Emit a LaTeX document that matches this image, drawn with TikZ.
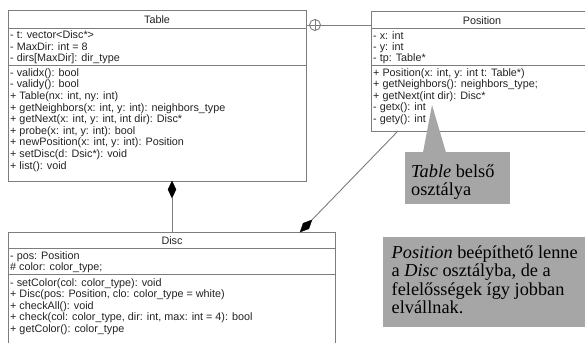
\documentclass[tikz,border=0pt]{standalone}
\usepackage{fontspec}
\setmainfont{Liberation Serif}
\setsansfont{Liberation Sans}
\usetikzlibrary{shapes.geometric}
\definecolor{umlline}{RGB}{125,125,125}
\definecolor{notegray}{RGB}{166,166,166}
\definecolor{umltext}{RGB}{35,35,35}
\begin{document}
\begin{tikzpicture}[x=1pt,y=-1pt,
  umlbox/.style={draw=umlline, line width=1pt, fill=white, inner sep=0pt, outer sep=0pt, anchor=north west},
  sep/.style={draw=umlline, line width=1pt},
  row/.style={anchor=west, inner sep=0pt, text=umltext, font=\sffamily\fontsize{10.8}{11}\selectfont},
  ttl/.style={anchor=center, inner sep=0pt, text=umltext, font=\sffamily\fontsize{10.8}{11}\selectfont},
  conn/.style={draw=umlline, line width=0.9pt},
  compo/.style={diamond, fill=black, draw=black, line width=0.3pt, inner sep=0pt, outer sep=0pt},
  notebox/.style={fill=notegray, inner sep=0pt, outer sep=0pt, anchor=north west},
  notetxt/.style={anchor=base west, inner sep=0pt, text=black, font=\rmfamily\fontsize{18.3}{18.3}\selectfont}
]
\useasboundingbox (0,0) rectangle (585,342);
\clip (0,0) rectangle (585,342);
\fill[white] (0,0) rectangle (585,342);

% ---------- Table ----------
\node[umlbox, minimum width=298pt, minimum height=170pt] (table) at (8,11) {};
\draw[sep] (8,29) -- (306,29);
\draw[sep] (8,65.5) -- (306,65.5);
\node[ttl] (tabletitle) at (157,20) {Table};
\node[row] (ta1) at (10,35) {- t: vector<Disc*>};
\node[row] (ta2) at (10,47) {- MaxDir: int = 8};
\node[row] (ta3) at (10,59) {- dirs[MaxDir]: dir\_type};
\node[row] (tm1) at (10,73.5) {- validx(): bool};
\node[row] (tm2) at (10,85.1) {- validy(): bool};
\node[row] (tm3) at (10,96.7) {+ Table(nx: int, ny: int)};
\node[row] (tm4) at (10,108.3) {+ getNeighbors(x: int, y: int): neighbors\_type};
\node[row] (tm5) at (10,119.9) {+ getNext(x: int, y: int, int dir): Disc*};
\node[row] (tm6) at (10,131.5) {+ probe(x: int, y: int): bool};
\node[row] (tm7) at (10,143.1) {+ newPosition(x: int, y: int): Position};
\node[row] (tm8) at (10,154.7) {+ setDisc(d: Dsic*): void};
\node[row] (tm9) at (10,166.3) {+ list(): void};

% ---------- Position ----------
\node[umlbox, minimum width=240pt, minimum height=119pt] (position) at (371,12) {};
\draw[sep] (371,28.5) -- (611,28.5);
\draw[sep] (371,66) -- (611,66);
\node[ttl] (postitle) at (482,20.5) {Position};
\node[row] (pa1) at (373,36) {- x: int};
\node[row] (pa2) at (373,47.5) {- y: int};
\node[row] (pa3) at (373,59) {- tp: Table*};
\node[row] (pm1) at (373,73.5) {+ Position(x: int, y: int t: Table*)};
\node[row] (pm2) at (373,85) {+ getNeighbors(): neighbors\_type;};
\node[row] (pm3) at (373,96.5) {+ getNext(int dir): Disc*};
\node[row] (pm4) at (373,108) {- getx(): int};
\node[row] (pm5) at (373,119.5) {- gety(): int};

% ---------- Disc ----------
\node[umlbox, minimum width=327pt, minimum height=130pt] (disc) at (8,232) {};
\draw[sep] (8,248) -- (335,248);
\draw[sep] (8,274.3) -- (335,274.3);
\node[ttl] (disctitle) at (172,240.5) {Disc};
\node[row] (da1) at (10,256.7) {- pos: Position};
\node[row] (da2) at (10,268.2) {\# color: color\_type;};
\node[row] (dm1) at (10,283.3) {- setColor(col: color\_type): void};
\node[row] (dm2) at (10,294.8) {+ Disc(pos: Position, clo: color\_type = white)};
\node[row] (dm3) at (10,306.3) {+ checkAll(): void};
\node[row] (dm4) at (10,317.8) {+ check(col: color\_type, dir: int, max: int = 4): bool};
\node[row] (dm5) at (10,329.3) {+ getColor(): color\_type};

% ---------- nesting connector ----------
\node[circle, draw=umlline, line width=0.9pt, fill=white, minimum size=11pt, inner sep=0pt, outer sep=0pt] (nest) at (315,25) {};
\draw[conn] (nest.north) -- (nest.south);
\draw[conn] (nest.west) -- (nest.east);
\draw[conn] (table.east |- nest) -- (nest.west);
\draw[conn] (nest.east) -- (position.west |- nest);

% ---------- composition Table <>-- Disc ----------
\node[compo, minimum width=8pt, minimum height=17pt] (dtab) at (172,189.5) {};
\draw[conn] (dtab.south) -- (disc.north -| dtab);

% ---------- composition Position --<> Disc ----------
\node[compo, minimum width=17pt, minimum height=8pt, rotate=45.6] (dpos) at (306,226) {};
\coordinate (posend) at (398,131);
\draw[conn] (dpos.east) -- (posend);

% ---------- note 1 ----------
\node[notebox, minimum width=105pt, minimum height=52pt] (note1) at (405,152) {};
\coordinate (tip1) at (432,105);
\fill[notegray] (423,152.5) -- (tip1) -- (446,152.5) -- cycle;
\node[notetxt] (n1l1) at (411,177) {\textit{Table} belső};
\node[notetxt] (n1l2) at (411,195) {osztálya};

% ---------- note 2 ----------
\node[notebox, minimum width=220pt, minimum height=89.5pt] (note2) at (383,237.3) {};
\node[notetxt] (n2l1) at (391.5,258) {\textit{Position} beépíthető lenne};
\node[notetxt] (n2l2) at (391.5,276.5) {a \textit{Disc} osztályba, de a};
\node[notetxt] (n2l3) at (391.5,295) {felelősségek így jobban};
\node[notetxt] (n2l4) at (391.5,313.3) {elvállnak.};
\end{tikzpicture}
\end{document}
